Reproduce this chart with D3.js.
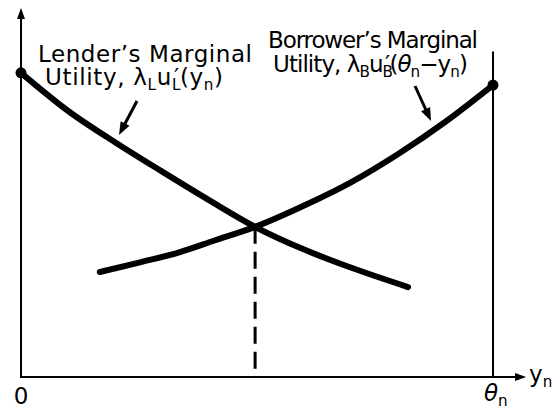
<!DOCTYPE html>
<html>
<head>
<meta charset="utf-8">
<script src="https://cdn.jsdelivr.net/npm/d3@7"></script>
<style>
  html, body { margin: 0; padding: 0; background: #fff; }
  svg { display: block; }
  text { font-family: "DejaVu Sans", sans-serif; fill: #000; }
</style>
</head>
<body>
<svg id="chart" width="558" height="409"></svg>
<script>
// Output share y_n (0 … θ_n = 100) against marginal utility (arbitrary units)
const lenderX = [0, 10, 20, 30, 40, 49.6, 60, 70, 82];
const lenderY = [8.69, 7.60, 6.70, 5.86, 5.04, 4.29, 3.64, 3.12, 2.57];
const borrowerX = [16.7, 25, 33.7, 41, 49.6, 60, 70, 80, 90, 100];
const borrowerY = [3.00, 3.27, 3.57, 3.90, 4.29, 4.90, 5.57, 6.38, 7.30, 8.34];
const equilibrium = [49.6, 4.29];
const thetaN = 100;
const xTicks = [0, thetaN];
const tickLabels = ["0", "θ"];
const xAxisEnd = 107;
const yAxisTop = 10.54;

const svg = d3.select("#chart");
const x = d3.scaleLinear().domain([0, 100]).range([21, 493]);
const y = d3.scaleLinear().domain([0, 10]).range([377, 27]);

const line = d3.line().x(d => x(d[0])).y(d => y(d[1])).curve(d3.curveMonotoneX);
const lender = d3.zip(lenderX, lenderY);
const borrower = d3.zip(borrowerX, borrowerY);

function arrowHead(g, tip, from, len, half) {
  const dx = tip[0] - from[0], dy = tip[1] - from[1];
  const L = Math.hypot(dx, dy), ux = dx / L, uy = dy / L;
  const bx = tip[0] - ux * len, by = tip[1] - uy * len;
  g.append("path")
    .attr("d", `M${tip[0]},${tip[1]}L${bx - uy * half},${by + ux * half}L${bx + uy * half},${by - ux * half}Z`)
    .attr("fill", "#000");
}

// axes
svg.append("line").attr("x1", x(0)).attr("x2", x(0)).attr("y1", y(0)).attr("y2", y(yAxisTop) + 6)
  .attr("stroke", "#000").attr("stroke-width", 2);
arrowHead(svg, [x(0), y(yAxisTop)], [x(0), y(0)], 11, 4);
svg.append("line").attr("x1", x(0) - 1).attr("x2", x(xAxisEnd) - 6).attr("y1", y(0)).attr("y2", y(0))
  .attr("stroke", "#000").attr("stroke-width", 2);
arrowHead(svg, [x(xAxisEnd), y(0)], [x(0), y(0)], 11, 4);

// vertical boundary at θ_n
svg.append("line").attr("x1", x(thetaN)).attr("x2", x(thetaN)).attr("y1", y(0)).attr("y2", y(9.3))
  .attr("stroke", "#000").attr("stroke-width", 2);

// dashed drop line from the crossing point
svg.append("line").attr("x1", x(equilibrium[0])).attr("x2", x(equilibrium[0]))
  .attr("y1", y(equilibrium[1])).attr("y2", y(0))
  .attr("stroke", "#000").attr("stroke-width", 3).attr("stroke-dasharray", "17,8");

// curves
[lender, borrower].forEach(d => {
  svg.append("path").datum(d).attr("d", line)
    .attr("fill", "none").attr("stroke", "#000").attr("stroke-width", 6)
    .attr("stroke-linecap", "round");
});
// endpoint dots
svg.append("circle").attr("cx", x(lender[0][0])).attr("cy", y(lender[0][1])).attr("r", 5.5);
svg.append("circle").attr("cx", x(borrower[borrower.length - 1][0])).attr("cy", y(borrower[borrower.length - 1][1])).attr("r", 5.5);

// pointer arrows
function pointer(from, tip) {
  svg.append("line").attr("x1", from[0]).attr("y1", from[1])
    .attr("x2", tip[0] - (tip[0] - from[0]) * 0.3).attr("y2", tip[1] - (tip[1] - from[1]) * 0.3)
    .attr("stroke", "#000").attr("stroke-width", 3);
  arrowHead(svg, tip, from, 13, 5);
}
pointer([137, 101], [119, 135]);
pointer([415, 86], [431, 121]);

// rich text helper: parts = [text, kind, extra]
const FS = 23;
function rich(xp, yp, parts, width) {
  const t = svg.append("text").attr("x", xp).attr("y", yp).attr("font-size", FS);
  let shift = 0;
  parts.forEach(p => {
    const [s, kind, extra] = p;
    const ts = t.append("tspan").text(s);
    let target = 0;
    if (kind === "sub") { ts.attr("font-size", FS * 0.66); target = 5; }
    if (kind === "it") ts.attr("font-style", "italic");
    if (kind === "prime") ts.attr("dx", extra);
    ts.attr("dy", target - shift);
    shift = target;
  });
  if (width) {
    const w = t.node().getComputedTextLength();
    t.attr("letter-spacing", ((width - w) / Math.max(1, t.text().length - 1)).toFixed(2));
  }
  return t;
}

rich(38, 62, [["Lender’s Marginal"]], 214);
rich(45, 85, [["Utility, λ"], ["L", "sub"], ["u"], ["L", "sub"], ["′", "prime", -7], ["(y"], ["n", "sub"], [")"]], 185);
rich(268, 48, [["Borrower’s Marginal"]], 210);
rich(273, 72, [["Utility, λ"], ["B", "sub"], ["u"], ["B", "sub"], ["′", "prime", -7], ["("], ["θ", "it"], ["n", "sub"], ["−y"], ["n", "sub"], [")"]], 202);

// tick labels
svg.append("text").attr("x", x(xTicks[0])).attr("y", 404).attr("font-size", FS)
  .attr("text-anchor", "middle").text(tickLabels[0]);
rich(x(xTicks[1]) - 9, 401, [[tickLabels[1], "it"], ["n", "sub"]]);
rich(529, 382, [["y"], ["n", "sub"]]);
</script>
</body>
</html>
